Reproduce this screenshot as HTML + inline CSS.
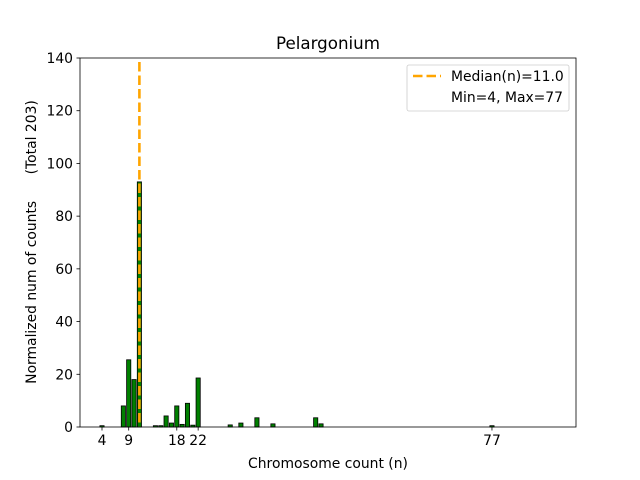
<!DOCTYPE html>
<html><head><meta charset="utf-8"><style>body{margin:0;background:#fff}svg{display:block;font-family:"DejaVu Sans","Liberation Sans",sans-serif}</style></head>
<body>
<svg id="chart" width="640" height="480">
<rect x="0" y="0" width="640" height="480" fill="#fff"/>
<g id="bars"></g>
<g id="axes"></g>
</svg>
<script>
const counts = [4, 8, 9, 10, 11, 14, 15, 16, 17, 18, 19, 20, 21, 22, 28, 30, 33, 36, 44, 45, 77];
const values = [0.5, 8, 25.5, 18, 93, 0.5, 0.5, 4.2, 1.5, 8, 1, 9, 0.7, 18.6, 0.8, 1.5, 3.5, 1.2, 3.5, 1.2, 0.5];
const xTicks = [4, 9, 18, 22, 77];
const yTicks = [0, 20, 40, 60, 80, 100, 120, 140];
const median = 11.0;
const NS = "http://www.w3.org/2000/svg";
const L = 80, R = 576, T = 58, B = 427;
const X = n => 102 + (n - 4) * 5.342;
const Y = v => B - v / 140 * (B - T);
const bars = document.getElementById('bars');
const axes = document.getElementById('axes');
function mk(tag, attrs, parent, text) {
  const e = document.createElementNS(NS, tag);
  for (const k in attrs) e.setAttribute(k, attrs[k]);
  if (text !== undefined) e.textContent = text;
  parent.appendChild(e);
  return e;
}
counts.forEach((c, i) => {
  const r = mk('rect', {x: X(c) - 2.1, y: Y(values[i]), width: 4.2, height: B - Y(values[i]), fill: 'green', stroke: '#000', 'stroke-width': 0.8}, bars);
  
  
});
const ml = mk('line', {x1: X(median), x2: X(median), y1: T + 4, y2: B, stroke: 'orange', 'stroke-width': 2.6, 'stroke-dasharray': '9.5,4'}, axes);


const frame = mk('rect', {x: L, y: T, width: R - L, height: B - T, fill: 'none', stroke: '#000', 'stroke-width': 0.8}, axes);


yTicks.forEach(v => {
  mk('line', {x1: L - 3.5, x2: L, y1: Y(v), y2: Y(v), stroke: '#000', 'stroke-width': 0.8}, axes);
  const t = mk('text', {x: L - 7, y: Y(v) + 5, 'text-anchor': 'end', 'font-size': 13.9}, axes, String(v));
  
  
});
xTicks.forEach(v => {
  mk('line', {x1: X(v), x2: X(v), y1: B, y2: B + 3.5, stroke: '#000', 'stroke-width': 0.8}, axes);
  const t = mk('text', {x: X(v), y: B + 18, 'text-anchor': 'middle', 'font-size': 13.9}, axes, String(v));
  
  
});
const title = mk('text', {x: 328, y: 49, 'text-anchor': 'middle', 'font-size': 16.7}, axes, 'Pelargonium');


const xl = mk('text', {x: 328, y: 468, 'text-anchor': 'middle', 'font-size': 13.9}, axes, 'Chromosome count (n)');


const yl = mk('text', {x: 0, y: 0, 'text-anchor': 'middle', 'font-size': 13.9, transform: 'translate(36,242) rotate(-90)', style: 'white-space:pre'}, axes, 'Normalized num of counts      (Total 203)');


const lg = mk('g', {}, axes);


mk('rect', {x: 407, y: 65, width: 162, height: 46, rx: 2, fill: '#fff', stroke: '#ccc', 'stroke-width': 0.8}, lg);
mk('line', {x1: 413, x2: 441, y1: 76, y2: 76, stroke: 'orange', 'stroke-width': 2.6, 'stroke-dasharray': '9.5,4'}, lg);
mk('text', {x: 451, y: 81, 'font-size': 13.9}, lg, 'Median(n)=11.0');
mk('text', {x: 451, y: 102, 'font-size': 13.9}, lg, 'Min=4, Max=77');
</script>
</body></html>
